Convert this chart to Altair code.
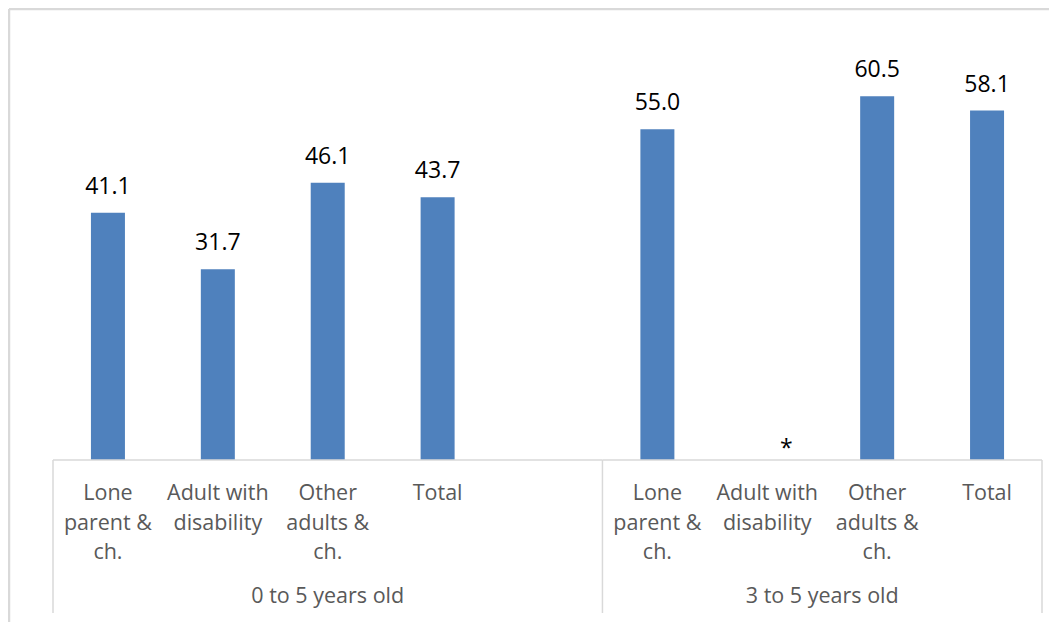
import altair as alt
import pandas as pd

# ---- data ----
groups = ["0 to 5 years old", "3 to 5 years old"]
categories = ["Lone|parent &|ch.", "Adult with|disability", "Other|adults &|ch.", "Total"]
values_0to5 = [41.1, 31.7, 46.1, 43.7]
values_3to5 = [55.0, None, 60.5, 58.1]
missing_label = "*"

# slot positions: group 1 occupies slots 0-4 (last slot empty), group 2 slots 5-8
group_starts = [0, 5]
group_ends = [5, 9]

rows = []
for g, start, vals in zip(groups, group_starts, [values_0to5, values_3to5]):
    for i, (c, v) in enumerate(zip(categories, vals)):
        rows.append({"group": g, "category": c, "pos": start + i + 0.5, "value": v})
df = pd.DataFrame(rows)
bars_df = df[df["value"].notna()].copy()
miss_df = df[df["value"].isna()].copy()
miss_df["value"] = 0.0
miss_df["label"] = missing_label

grp_df = pd.DataFrame({
    "group": groups,
    "start": group_starts,
    "end": group_ends,
    "mid": [(s + e) / 2 for s, e in zip(group_starts, group_ends)],
})
div_df = pd.DataFrame({"x": sorted(set(group_starts + group_ends))})

W, H = 999, 421
xs = alt.Scale(domain=[0, 9], nice=False, zero=False)
ys = alt.Scale(domain=[0, 70], nice=False)
FONT = "Open Sans"
GRAY = "#595959"
LINE = "#d9d9d9"

bars = alt.Chart(bars_df).mark_bar(size=34, color="#4f81bd").encode(
    x=alt.X("pos:Q", scale=xs, axis=None),
    y=alt.Y("value:Q", scale=ys, axis=None),
)

vlabels = alt.Chart(bars_df).mark_text(
    font=FONT, fontSize=23, color="#000000", baseline="alphabetic", dy=-19
).encode(
    x=alt.X("pos:Q", scale=xs),
    y=alt.Y("value:Q", scale=ys),
    text=alt.Text("value:Q", format=".1f"),
)

mlabels = alt.Chart(miss_df).mark_text(
    font=FONT, fontSize=23, color="#000000", baseline="alphabetic", dy=-4, dx=19
).encode(
    x=alt.X("pos:Q", scale=xs),
    y=alt.Y("value:Q", scale=ys),
    text="label:N",
)

axis_line = alt.Chart(grp_df).mark_rule(color=LINE, strokeWidth=1.5).encode(
    x=alt.X("start:Q", scale=xs),
    x2="end:Q",
    y=alt.value(H),
)

dividers = alt.Chart(div_df).mark_rule(color=LINE, strokeWidth=1.5).encode(
    x=alt.X("x:Q", scale=xs),
    y=alt.value(H),
    y2=alt.value(H + 153),
)

cat_labels = alt.Chart(df).mark_text(
    font=FONT, fontSize=21.5, color=GRAY, baseline="alphabetic", lineBreak="|", lineHeight=29.5
).encode(
    x=alt.X("pos:Q", scale=xs),
    y=alt.value(H + 40),
    text="category:N",
)

grp_labels = alt.Chart(grp_df).mark_text(
    font=FONT, fontSize=21.5, color=GRAY, baseline="alphabetic"
).encode(
    x=alt.X("mid:Q", scale=xs),
    y=alt.value(H + 143),
    text="group:N",
)

frame_top = alt.Chart(grp_df.head(1)).mark_rule(color=LINE, strokeWidth=2.5).encode(
    x=alt.value(-39), x2=alt.value(1100), y=alt.value(-30)
)
frame_left = alt.Chart(grp_df.head(1)).mark_rule(color=LINE, strokeWidth=2.5).encode(
    x=alt.value(-39), y=alt.value(-30), y2=alt.value(700)
)

chart = alt.layer(
    frame_top, frame_left, bars, vlabels, mlabels, axis_line, dividers, cat_labels, grp_labels
).properties(
    width=W, height=H,
    padding={"left": 40, "top": 31, "right": 2, "bottom": 162},
    autosize=alt.AutoSizeParams(type="none"),
).configure(
    background="white",
    view=alt.ViewConfig(stroke="transparent", strokeWidth=0),
)

chart.save("out.html", embed_options={"renderer": "svg", "actions": False})
